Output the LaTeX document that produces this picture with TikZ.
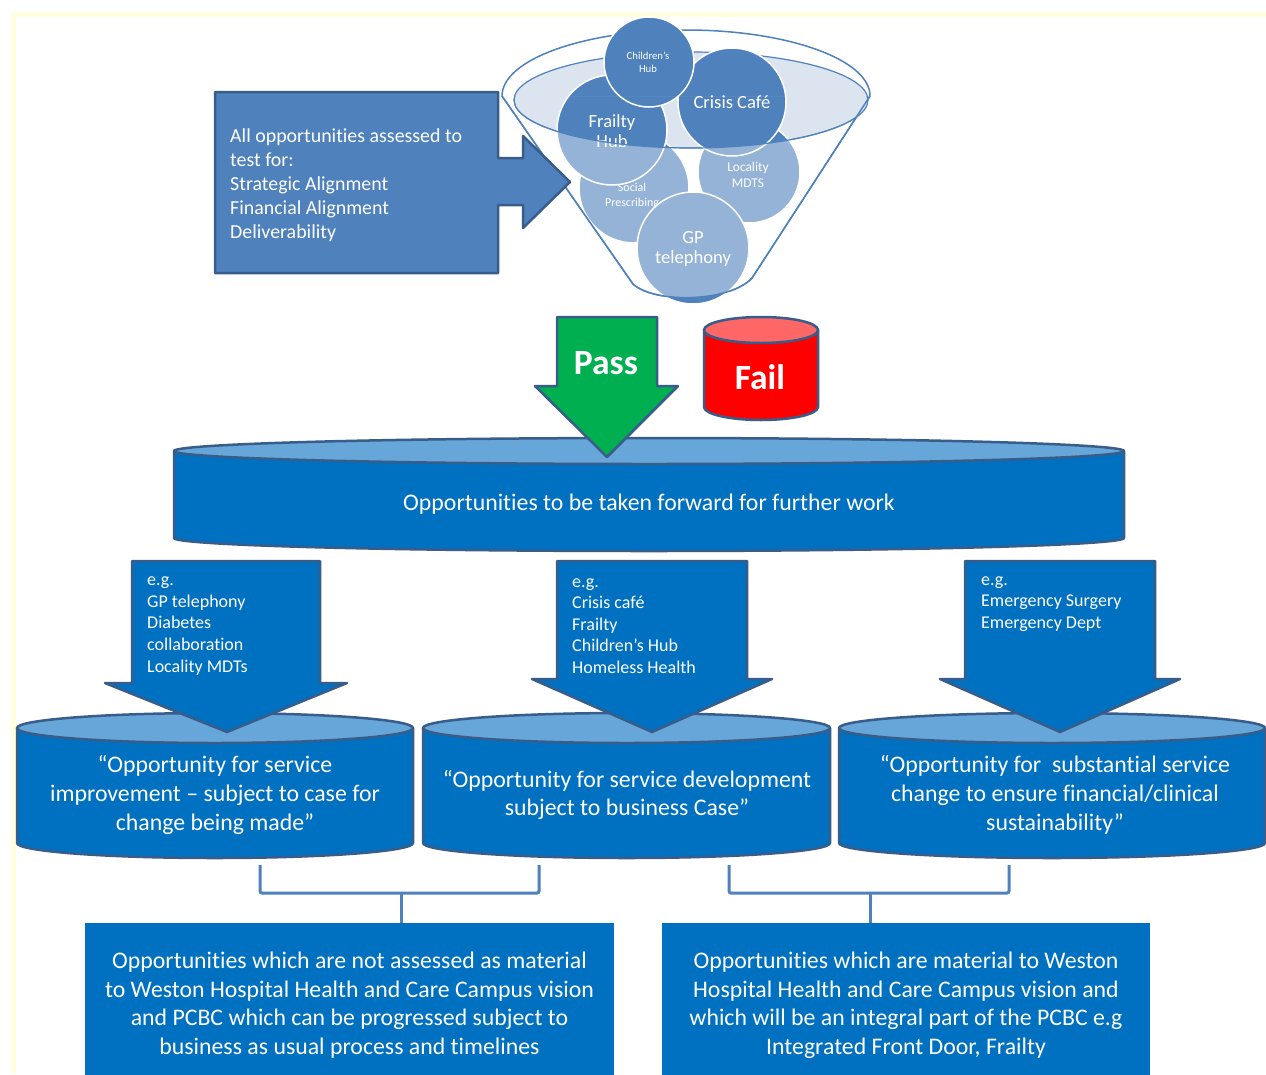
\documentclass[tikz,border=0pt]{standalone}
\usepackage{fontspec}
\setmainfont{Carlito}[Ligatures=NoCommon]
\definecolor{accblue}{HTML}{4F81BD}
\definecolor{edgeblue}{HTML}{385D8A}
\definecolor{bodyblue}{HTML}{0070C0}
\definecolor{topblue}{HTML}{66A6D9}
\definecolor{paleblue}{HTML}{DCE4EF}
\definecolor{passgreen}{HTML}{00B050}
\definecolor{failred}{HTML}{FF0000}
\definecolor{failtop}{HTML}{FF6666}
\definecolor{frameyellow}{HTML}{FFFFE0}
\newcommand{\mycyl}[7]{%
 \pgfmathsetmacro\cylcx{(#1+#2)/2}%
 \pgfmathsetmacro\cylrx{(#2-#1)/2}%
 \pgfmathsetmacro\cylkx{0.5523*\cylrx}%
 \pgfmathsetmacro\cylky{0.5523*#5}%
 \pgfmathsetmacro\cylyb{#4+#5}%
 \pgfmathsetmacro\cylyc{#4+\cylky}%
 \pgfmathsetmacro\cylxa{\cylcx-\cylkx}%
 \pgfmathsetmacro\cylxb{\cylcx+\cylkx}%
 \draw[edge, fill=#6] (#1,#3) -- (#1,#4) .. controls (#1,\cylyc) and (\cylxa,\cylyb) .. (\cylcx,\cylyb) .. controls (\cylxb,\cylyb) and (#2,\cylyc) .. (#2,#4) -- (#2,#3) -- cycle;
 \draw[edge, fill=#7] (\cylcx,#3) ellipse [x radius=\cylrx, y radius=#5];
}
\begin{document}
\begin{tikzpicture}[x=1pt,y=-1pt,
  edge/.style={draw=edgeblue, line width=2.5pt, line join=round},
  wtext/.style={text=white, inner sep=0pt},
  bracket/.style={draw=accblue, line width=3pt, rounded corners=2pt},
  circ/.style={fill=accblue, draw=white, line width=1.5pt},
  ctext/.style={text=white, inner sep=0pt, align=center},
  big/.style={font=\fontsize{23.8}{28.7}\selectfont},
  mid/.style={font=\fontsize{18}{21.6}\selectfont},
  bold/.style={font=\fontsize{35.5}{40}\selectfont\bfseries}]
\useasboundingbox (0,0) rectangle (1266,1074);
\fill[white] (0,0) rectangle (1266,1074);
\draw[frameyellow, line width=5pt] (13,1074) -- (13,14.5) -- (1266,14.5);

% ---------------- funnel ----------------
\path[fill=white, draw=accblue, line width=1.5pt] (502,96) .. controls (502,59.5) and (584.4,30) .. (686,30) .. controls (787.6,30) and (870,59.5) .. (870,96) -- (752,278) .. controls (730,302) and (655,304) .. (633,284) -- cycle;
\draw[accblue, fill=paleblue, line width=1.2pt] (691,100) ellipse [x radius=177, y radius=48];

\draw[circ] (634,188) circle [radius=55];
\node[ctext, font=\fontsize{12}{14.5}\selectfont] (social) at (632,196) {Social\\Prescribing};
\draw[circ] (749,172) circle [radius=51];
\node[ctext, font=\fontsize{13.4}{16}\selectfont] (locality) at (748,175) {Locality\\MDTS};
\draw[circ] (693,248) circle [radius=56];
\node[ctext, font=\fontsize{18.6}{20.5}\selectfont] (gp) at (693,249) {GP\\telephony};
\draw[circ] (612,130) circle [radius=55];
\node[ctext, font=\fontsize{18.6}{20.5}\selectfont] (frailty) at (612,131) {Frailty\\Hub};
\draw[circ] (732,102) circle [radius=54];
\node[ctext, font=\fontsize{18.6}{20}\selectfont] (crisis) at (732,102) {Crisis Café};
\draw[circ] (649,62) circle [radius=45];
\node[ctext, font=\fontsize{10.7}{13}\selectfont] (children) at (648,62) {Children’s\\Hub};

\begin{scope}
\clip (502,96) -- (870,96) -- (752,278) .. controls (730,302) and (655,304) .. (633,284) -- cycle;
\fill[white, opacity=0.4, even odd rule] (502,96) -- (870,96) -- (752,278) .. controls (730,302) and (655,304) .. (633,284) -- cycle (691,100) ellipse [x radius=177, y radius=48];
\draw[accblue, line width=1.2pt] (691,100) ellipse [x radius=177, y radius=48];
\end{scope}
\draw[accblue, line width=1.5pt] (870,96) -- (752,278) .. controls (730,302) and (655,304) .. (633,284) -- (502,96);

% ---------------- criteria box ----------------
\draw[edge, fill=accblue] (215,92) -- (498,92) -- (498,158) -- (523,158) -- (523,136) -- (570,182) -- (523,228) -- (523,205) -- (498,205) -- (498,273) -- (215,273) -- cycle;
\node[wtext, align=left, anchor=west, font=\fontsize{19.9}{24}\selectfont] (crit) at (230,185) {All opportunities assessed to\\test for:\\Strategic Alignment\\Financial Alignment\\Deliverability};

% ---------------- big disk, pass, fail ----------------
\mycyl{174}{1124}{451}{538}{13}{bodyblue}{topblue}
\node[wtext, big] (fwd) at (649,504) {Opportunities to be taken forward for further work};

\draw[edge, fill=passgreen] (557,317) -- (657,317) -- (657,386) -- (678,386) -- (607,457) -- (535,386) -- (557,386) -- cycle;
\node[wtext, bold] (pass) at (606,363) {Pass};

\mycyl{704}{818}{330}{407}{13}{failred}{failtop}
\node[wtext, bold] (fail) at (760,377) {Fail};

% ---------------- three cylinders ----------------
\mycyl{17}{413}{728}{843}{15}{bodyblue}{topblue}
\mycyl{423}{830}{728}{843}{15}{bodyblue}{topblue}
\mycyl{839}{1265}{728}{843}{15}{bodyblue}{topblue}
\node[ctext, big] (c1) at (215,795) {“Opportunity for service\\improvement – subject to case for\\change being made”};
\node[ctext, big] (c2) at (627,795) {“Opportunity for service development\\subject to business Case”};
\node[ctext, big] (c3) at (1055,795) {“Opportunity for~ substantial service\\change to ensure financial/clinical\\sustainability”};

% ---------------- down arrows ----------------
\draw[edge, fill=bodyblue] (132,561) -- (320,561) -- (320,683) -- (347,683) -- (227,732) -- (105,683) -- (132,683) -- cycle;
\draw[edge, fill=bodyblue] (557,561) -- (747,561) -- (747,679) -- (772,679) -- (652,732) -- (532,679) -- (557,679) -- cycle;
\draw[edge, fill=bodyblue] (965,561) -- (1155,561) -- (1155,679) -- (1180,679) -- (1060,732) -- (940,679) -- (965,679) -- cycle;
\node[wtext, mid, align=left, anchor=west] (a1) at (147,626) {e.g.\\GP telephony\\Diabetes\\collaboration\\Locality MDTs};
\node[wtext, mid, align=left, anchor=west] (a2) at (572,626) {e.g.\\Crisis café\\Frailty\\Children’s Hub\\Homeless Health};
\node[wtext, mid, align=left, anchor=west] (a3) at (981,604) {e.g.\\Emergency Surgery\\Emergency Dept};

% ---------------- bottom boxes ----------------
\node[ctext, big, fill=bodyblue, minimum width=529pt, minimum height=164pt, anchor=north] (nb1) at (349.5,923) {Opportunities which are not assessed as material\\to Weston Hospital Health and Care Campus vision\\and PCBC which can be progressed subject to\\business as usual process and timelines};
\node[ctext, big, fill=bodyblue, minimum width=488pt, minimum height=164pt, anchor=north] (nb2) at (906,923) {Opportunities which are material to Weston\\Hospital Health and Care Campus vision and\\which will be an integral part of the PCBC e.g\\Integrated Front Door, Frailty};

% ---------------- brackets ----------------
\coordinate (b1l) at (260,865);
\coordinate (b1m) at (401,893);
\coordinate (b1r) at (539,865);
\coordinate (b2l) at (729,865);
\coordinate (b2m) at (870,893);
\coordinate (b2r) at (1009,865);
\draw[bracket] (b1l) |- (b1m) -| (b1r);
\draw[bracket] (b1m) -- (b1m |- nb1.north);
\draw[bracket] (b2l) |- (b2m) -| (b2r);
\draw[bracket] (b2m) -- (b2m |- nb2.north);
\end{tikzpicture}
\end{document}
